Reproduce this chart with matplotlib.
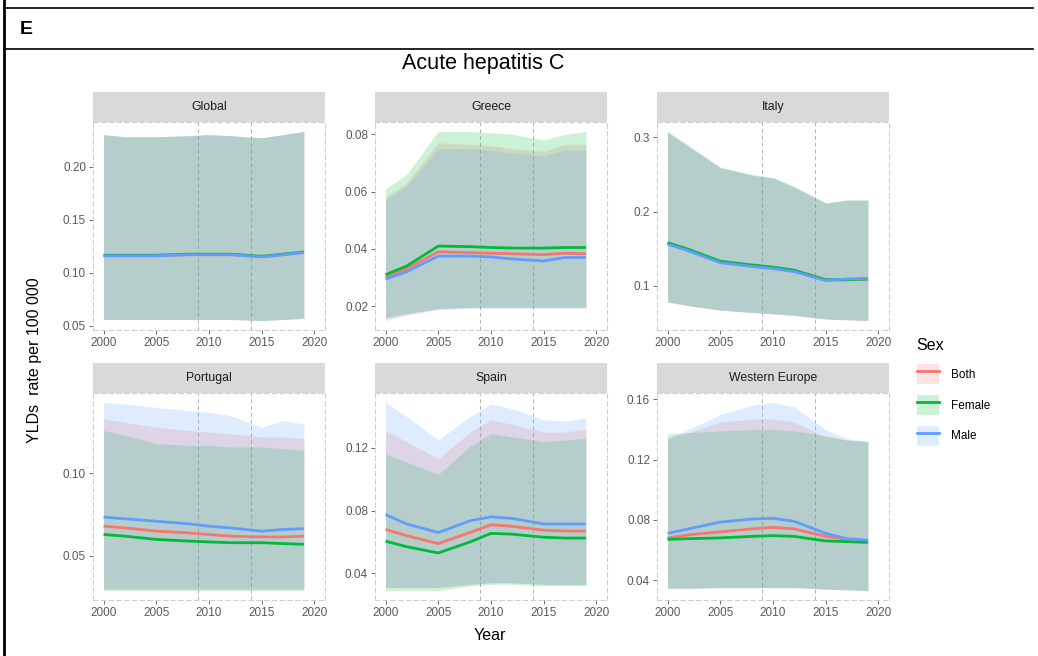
import matplotlib.pyplot as plt
from matplotlib.patches import Rectangle, Patch
from matplotlib.lines import Line2D
import numpy as np

plt.rcParams['font.family'] = ['Liberation Sans', 'DejaVu Sans']

# Данные
years = [2000, 2002, 2005, 2008, 2010, 2012, 2015, 2017, 2019]
sexes = ['Both', 'Female', 'Male']
regions = ['Global', 'Greece', 'Italy', 'Portugal', 'Spain', 'Western Europe']

# Global
global_val = {'Both':   [0.116, 0.116, 0.116, 0.117, 0.117, 0.117, 0.115, 0.117, 0.119],
              'Female': [0.1165, 0.1165, 0.1165, 0.1175, 0.1175, 0.1175, 0.1155, 0.1175, 0.1195],
              'Male':   [0.116, 0.116, 0.116, 0.117, 0.117, 0.117, 0.115, 0.117, 0.119]}
global_lo = {'Both':   [0.056, 0.056, 0.056, 0.056, 0.056, 0.056, 0.055, 0.056, 0.057],
             'Female': [0.056, 0.056, 0.056, 0.056, 0.056, 0.056, 0.055, 0.056, 0.057],
             'Male':   [0.056, 0.056, 0.056, 0.056, 0.056, 0.056, 0.055, 0.056, 0.057]}
global_hi = {'Both':   [0.230, 0.228, 0.228, 0.229, 0.230, 0.229, 0.227, 0.230, 0.233],
             'Female': [0.230, 0.228, 0.228, 0.229, 0.230, 0.229, 0.227, 0.230, 0.233],
             'Male':   [0.230, 0.228, 0.228, 0.229, 0.230, 0.229, 0.227, 0.230, 0.233]}

# Greece
greece_val = {'Both':   [0.030, 0.033, 0.039, 0.0387, 0.0385, 0.0383, 0.038, 0.0385, 0.0383],
              'Female': [0.031, 0.034, 0.041, 0.0408, 0.0405, 0.0403, 0.0403, 0.0405, 0.0405],
              'Male':   [0.0295, 0.032, 0.0375, 0.0375, 0.0372, 0.0365, 0.0358, 0.037, 0.037]}
greece_lo = {'Both':   [0.0158, 0.0172, 0.019, 0.0195, 0.0195, 0.0195, 0.0195, 0.0195, 0.0195],
             'Female': [0.016, 0.0175, 0.0192, 0.0197, 0.0197, 0.0197, 0.0197, 0.0197, 0.0197],
             'Male':   [0.015, 0.0168, 0.0188, 0.0193, 0.0193, 0.0193, 0.0193, 0.0193, 0.0193]}
greece_hi = {'Both':   [0.058, 0.063, 0.077, 0.0765, 0.076, 0.075, 0.074, 0.0765, 0.0765],
             'Female': [0.061, 0.066, 0.081, 0.081, 0.0805, 0.080, 0.078, 0.080, 0.081],
             'Male':   [0.057, 0.062, 0.075, 0.075, 0.0745, 0.0735, 0.0725, 0.0745, 0.0745]}

# Italy
italy_val = {'Both':   [0.157, 0.148, 0.132, 0.127, 0.124, 0.120, 0.108, 0.108, 0.109],
             'Female': [0.158, 0.149, 0.133, 0.128, 0.125, 0.121, 0.108, 0.108, 0.109],
             'Male':   [0.156, 0.147, 0.131, 0.126, 0.123, 0.119, 0.107, 0.109, 0.110]}
italy_lo = {'Both':   [0.078, 0.073, 0.067, 0.064, 0.062, 0.060, 0.055, 0.054, 0.053],
            'Female': [0.078, 0.073, 0.067, 0.064, 0.062, 0.060, 0.055, 0.054, 0.053],
            'Male':   [0.078, 0.073, 0.067, 0.064, 0.062, 0.060, 0.055, 0.054, 0.053]}
italy_hi = {'Both':   [0.307, 0.288, 0.259, 0.249, 0.245, 0.233, 0.211, 0.215, 0.215],
            'Female': [0.308, 0.289, 0.260, 0.250, 0.246, 0.234, 0.212, 0.216, 0.216],
            'Male':   [0.307, 0.288, 0.259, 0.249, 0.245, 0.233, 0.211, 0.215, 0.215]}

# Portugal
portugal_val = {'Both':   [0.068, 0.067, 0.065, 0.064, 0.063, 0.062, 0.0615, 0.0615, 0.062],
                'Female': [0.063, 0.062, 0.060, 0.059, 0.0585, 0.058, 0.058, 0.0575, 0.057],
                'Male':   [0.0735, 0.0725, 0.071, 0.0695, 0.068, 0.067, 0.065, 0.066, 0.0665]}
portugal_lo = {'Both':   [0.030, 0.030, 0.030, 0.030, 0.030, 0.030, 0.030, 0.030, 0.030],
               'Female': [0.029, 0.029, 0.029, 0.029, 0.029, 0.029, 0.029, 0.029, 0.029],
               'Male':   [0.030, 0.030, 0.030, 0.030, 0.030, 0.030, 0.030, 0.030, 0.030]}
portugal_hi = {'Both':   [0.133, 0.131, 0.128, 0.126, 0.125, 0.124, 0.122, 0.122, 0.121],
               'Female': [0.126, 0.123, 0.118, 0.117, 0.117, 0.116, 0.116, 0.115, 0.114],
               'Male':   [0.143, 0.142, 0.140, 0.138, 0.137, 0.135, 0.128, 0.132, 0.130]}

# Spain
spain_val = {'Both':   [0.068, 0.064, 0.059, 0.066, 0.071, 0.070, 0.0675, 0.067, 0.067],
             'Female': [0.0605, 0.057, 0.053, 0.060, 0.0655, 0.065, 0.063, 0.0625, 0.0625],
             'Male':   [0.0775, 0.0715, 0.066, 0.0735, 0.076, 0.075, 0.0715, 0.0715, 0.0715]}
spain_lo = {'Both':   [0.031, 0.031, 0.031, 0.033, 0.034, 0.034, 0.033, 0.033, 0.033],
            'Female': [0.029, 0.029, 0.029, 0.032, 0.033, 0.033, 0.032, 0.032, 0.032],
            'Male':   [0.031, 0.031, 0.031, 0.033, 0.034, 0.034, 0.033, 0.033, 0.033]}
spain_hi = {'Both':   [0.131, 0.124, 0.113, 0.130, 0.138, 0.135, 0.130, 0.130, 0.132],
            'Female': [0.116, 0.111, 0.103, 0.121, 0.129, 0.127, 0.124, 0.125, 0.126],
            'Male':   [0.149, 0.140, 0.125, 0.140, 0.148, 0.145, 0.138, 0.137, 0.139]}

# Western Europe
weurope_val = {'Both':   [0.068, 0.070, 0.072, 0.074, 0.075, 0.074, 0.069, 0.067, 0.066],
               'Female': [0.067, 0.0675, 0.068, 0.069, 0.0695, 0.069, 0.066, 0.0655, 0.065],
               'Male':   [0.071, 0.074, 0.0785, 0.0805, 0.081, 0.079, 0.071, 0.0675, 0.0665]}
weurope_lo = {'Both':   [0.0345, 0.0345, 0.035, 0.035, 0.035, 0.035, 0.034, 0.0335, 0.033],
              'Female': [0.0345, 0.0345, 0.035, 0.035, 0.035, 0.035, 0.034, 0.0335, 0.033],
              'Male':   [0.0345, 0.0345, 0.035, 0.035, 0.035, 0.035, 0.034, 0.0335, 0.033]}
weurope_hi = {'Both':   [0.134, 0.138, 0.145, 0.147, 0.147, 0.145, 0.135, 0.133, 0.132],
              'Female': [0.137, 0.138, 0.139, 0.140, 0.140, 0.139, 0.136, 0.133, 0.132],
              'Male':   [0.134, 0.140, 0.150, 0.156, 0.158, 0.155, 0.140, 0.134, 0.132]}

values = [global_val, greece_val, italy_val, portugal_val, spain_val, weurope_val]
lows = [global_lo, greece_lo, italy_lo, portugal_lo, spain_lo, weurope_lo]
highs = [global_hi, greece_hi, italy_hi, portugal_hi, spain_hi, weurope_hi]

yticks = [[0.05, 0.10, 0.15, 0.20],
          [0.02, 0.04, 0.06, 0.08],
          [0.1, 0.2, 0.3],
          [0.05, 0.10],
          [0.04, 0.08, 0.12],
          [0.04, 0.08, 0.12, 0.16]]
ytick_fmt = ['{:.2f}', '{:.2f}', '{:.1f}', '{:.2f}', '{:.2f}', '{:.2f}']
xticks = [2000, 2005, 2010, 2015, 2020]
vlines = [2009, 2014]

colors = {'Both': '#F8766D', 'Female': '#00BA38', 'Male': '#619CFF'}

W, H = 1038, 656
fig = plt.figure(figsize=(W / 100, H / 100), dpi=100)

# рамка таблицы вокруг рисунка
fig.add_artist(Line2D([4 / W, 4 / W], [0, 1], color='black', lw=2))
fig.add_artist(Line2D([4 / W, 1033 / W], [1 - 8 / H, 1 - 8 / H], color='black', lw=1.2))
fig.add_artist(Line2D([4 / W, 1033 / W], [1 - 49 / H, 1 - 49 / H], color='black', lw=1.2))
fig.text(20 / W, 1 - 29 / H, 'E', fontsize=14, fontweight='bold', va='center', ha='left')

lefts = [93, 375, 657]
rows = [(122, 330), (393, 600)]
pw = 232
strip_h = 30

for i, reg in enumerate(regions):
    top, bot = rows[i // 3]
    left = lefts[i % 3]
    ax = fig.add_axes([left / W, 1 - bot / H, pw / W, (bot - top) / H])

    for v in vlines:
        ax.axvline(v, color='#b4b4b4', lw=0.7, ls=(0, (4, 3)), zorder=0)

    for s in sexes:
        ax.fill_between(years, lows[i][s], highs[i][s], color=colors[s], alpha=0.2, lw=0, zorder=1)
    for s in sexes:
        ax.plot(years, values[i][s], color=colors[s], lw=2.0, zorder=2, solid_capstyle='butt')

    allv = [x for s in sexes for x in lows[i][s] + highs[i][s]]
    lo, hi = min(allv), max(allv)
    r = hi - lo
    ax.set_ylim(lo - 0.05 * r, hi + 0.05 * r)
    ax.set_xlim(1999, 2021)
    ax.set_xticks(xticks)
    ax.set_yticks(yticks[i])
    ax.set_yticklabels([ytick_fmt[i].format(t) for t in yticks[i]])
    ax.tick_params(colors='#555555', labelcolor='#595959', labelsize=8.5, length=3, width=0.6, pad=2)

    for sp in ax.spines.values():
        sp.set_linestyle((0, (4, 3)))
        sp.set_color('#d0d0d0')
        sp.set_linewidth(0.8)

    # полоска с названием региона
    sh = strip_h / (bot - top)
    ax.add_patch(Rectangle((0, 1), 1, sh, transform=ax.transAxes, facecolor='#D9D9D9',
                           edgecolor='none', clip_on=False))
    ax.text(0.5, 1 + sh / 2, reg, transform=ax.transAxes, ha='center', va='center',
            fontsize=8.8, color='#1A1A1A')

fig.text(483 / W, 1 - 64 / H, 'Acute hepatitis C', fontsize=15.5, ha='center', va='center')
fig.text(35 / W, 1 - 360 / H, 'YLDs  rate per 100 000', fontsize=11.5, rotation=90,
         ha='center', va='center')
fig.text(490 / W, 1 - 636 / H, 'Year', fontsize=11.5, ha='center', va='center')

handles = [(Patch(facecolor=colors[s], alpha=0.2, edgecolor='none'),
            Line2D([], [], color=colors[s], lw=2.0)) for s in sexes]
leg = fig.legend(handles, sexes, loc='upper left', bbox_to_anchor=(912 / W, 1 - 333 / H),
                 frameon=False, fontsize=8.5, title='Sex', title_fontsize=11.5,
                 handlelength=1.9, handleheight=2.2, labelspacing=0.95, handletextpad=1.0,
                 alignment='left', borderaxespad=0)

plt.savefig('out.png', dpi=100)
